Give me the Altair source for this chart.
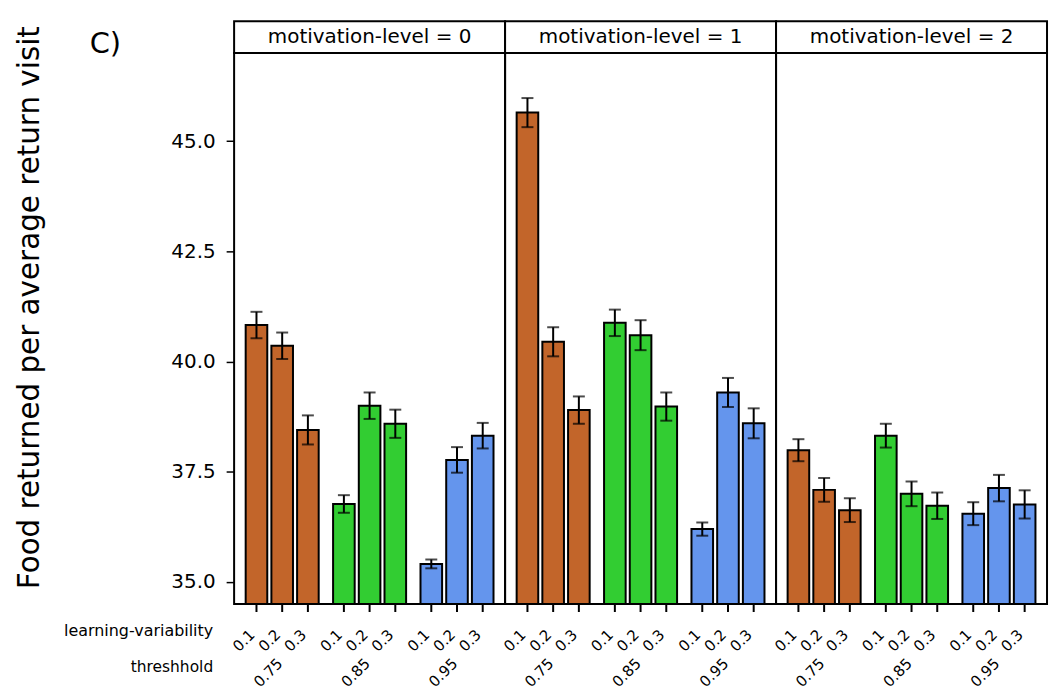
import altair as alt
import pandas as pd

# ---------------- data ----------------
MOTIVATION = [0, 1, 2]
THRESHOLDS = ["0.75", "0.85", "0.95"]
LEARNING_VAR = ["0.1", "0.2", "0.3"]

# means, ordered threshold-major then learning-variability
MEANS_M0 = [40.83, 40.36, 38.45, 36.77, 39.00, 38.59, 35.41, 37.77, 38.32]
MEANS_M1 = [45.65, 40.45, 38.90, 40.88, 40.60, 38.98, 36.20, 39.30, 38.60]
MEANS_M2 = [37.99, 37.09, 36.63, 38.32, 37.00, 36.73, 36.55, 37.13, 36.76]
# error half-widths
ERR_M0 = [0.30, 0.30, 0.33, 0.20, 0.30, 0.32, 0.10, 0.29, 0.29]
ERR_M1 = [0.33, 0.33, 0.31, 0.30, 0.34, 0.32, 0.15, 0.33, 0.34]
ERR_M2 = [0.25, 0.27, 0.27, 0.27, 0.28, 0.30, 0.26, 0.30, 0.32]

COLORS = ["#C2652A", "#32CD32", "#6495ED"]
Y_DOMAIN = [34.5, 47.0]
Y_TICKS = [35.0, 37.5, 40.0, 42.5, 45.0]
Y_TITLE = "Food returned per average return visit"
ROW_LABELS = ["learning-variability", "threshhold"]
PANEL_TAG = "C)"

MEANS = {0: MEANS_M0, 1: MEANS_M1, 2: MEANS_M2}
ERRS = {0: ERR_M0, 1: ERR_M1, 2: ERR_M2}

rows = []
for m in MOTIVATION:
    for i, t in enumerate(THRESHOLDS):
        for j, lv in enumerate(LEARNING_VAR):
            k = i * len(LEARNING_VAR) + j
            rows.append({"mot": m, "thr": t, "lv": lv,
                         "mean": MEANS[m][k], "err": ERRS[m][k]})
df = pd.DataFrame(rows)

W, H = 272, 553
FONT = "DejaVu Sans"


def panel(m):
    base = (
        alt.Chart(df)
        .transform_filter(alt.datum.mot == m)
        .transform_calculate(lo="datum.mean - datum.err", hi="datum.mean + datum.err")
    )
    x = alt.X("thr:N", sort=THRESHOLDS, axis=None,
              scale=alt.Scale(paddingInner=0, paddingOuter=0.05))
    xo = alt.XOffset("lv:N", sort=LEARNING_VAR,
                     scale=alt.Scale(paddingInner=0.16, paddingOuter=0.28))
    yscale = alt.Scale(domain=Y_DOMAIN, nice=False, zero=False)
    if m == 0:
        yaxis = alt.Axis(
            values=Y_TICKS, format=".1f", grid=False, domain=False,
            tickSize=8, tickWidth=1.5, tickColor="black",
            labelFontSize=20, labelFont=FONT, labelColor="black", labelPadding=11,
            title=Y_TITLE, titleFont=FONT, titleFontSize=29.5, titleFontWeight="normal",
            titleColor="black", titleX=-205, titleY=255, titleAngle=270,
            titleAlign="center", titleBaseline="middle",
        )
    else:
        yaxis = None

    def Y(field):
        return alt.Y(field, scale=yscale, axis=yaxis, stack=None)

    bars = base.mark_bar(stroke="black", strokeWidth=2).encode(
        x=x, xOffset=xo,
        y=Y("mean:Q"),
        y2=alt.datum(Y_DOMAIN[0]),
        color=alt.Color("thr:N", scale=alt.Scale(domain=THRESHOLDS, range=COLORS), legend=None),
    )
    err = base.mark_rule(color="black", strokeWidth=2).encode(
        x=x, xOffset=xo, y=Y("lo:Q"), y2="hi:Q")
    cap_hi = base.mark_tick(color="black", thickness=2, size=12, orient="horizontal").encode(
        x=x, xOffset=xo, y=Y("hi:Q"))
    cap_lo = base.mark_tick(color="black", thickness=2, size=12, orient="horizontal").encode(
        x=x, xOffset=xo, y=Y("lo:Q"))
    xticks = base.mark_rule(color="black", strokeWidth=2).encode(
        x=x, xOffset=xo, y=alt.value(H), y2=alt.value(H + 8))
    lv_lab = base.mark_text(angle=315, align="right", baseline="middle",
                            fontSize=15, font=FONT, color="black", dx=-6).encode(
        x=x, xOffset=xo, y=alt.value(H + 24), text="lv:N")
    thr_lab = base.transform_filter(alt.datum.lv == LEARNING_VAR[1]).mark_text(
        angle=315, align="right", baseline="middle", fontSize=15, font=FONT,
        color="black", dx=-3).encode(x=x, y=alt.value(H + 55), text="thr:N")

    head = alt.Chart(alt.Data(values=[{"label": f"motivation-level = {m}"}]))
    head_box = head.mark_rect(fill="white", stroke="black", strokeWidth=2).encode(
        x=alt.value(0), x2=alt.value(W), y=alt.value(-32), y2=alt.value(0))
    head_txt = head.mark_text(fontSize=20, font=FONT, color="black",
                              baseline="middle", align="center").encode(
        x=alt.value(W / 2), y=alt.value(-16), text="label:N")

    layers = [bars, err, cap_hi, cap_lo, xticks, lv_lab, thr_lab, head_box, head_txt]

    if m == 0:
        rl = alt.Chart(alt.Data(values=[{"t": ROW_LABELS[0], "k": 0},
                                        {"t": ROW_LABELS[1], "k": 1}]))
        row1 = rl.transform_filter(alt.datum.k == 0).mark_text(
            align="right", baseline="middle", fontSize=16, font=FONT, color="black").encode(
            x=alt.value(-21), y=alt.value(H + 27), text="t:N")
        row2 = rl.transform_filter(alt.datum.k == 1).mark_text(
            align="right", baseline="middle", fontSize=15.5, font=FONT, color="black").encode(
            x=alt.value(-21), y=alt.value(H + 63), text="t:N")
        tag = alt.Chart(alt.Data(values=[{"t": PANEL_TAG}])).mark_text(
            align="left", baseline="middle", fontSize=29, font=FONT, color="black").encode(
            x=alt.value(-145), y=alt.value(-9), text="t:N")
        layers += [row1, row2, tag]

    return alt.layer(*layers).properties(width=W, height=H)


chart = (
    alt.hconcat(*[panel(m) for m in MOTIVATION], spacing=0, bounds="flush")
    .properties(padding={"left": 13, "top": 18, "right": 4, "bottom": 0},
                background="white")
    .configure_view(stroke="black", strokeWidth=2)
)

chart.save("out.html", embed_options={"renderer": "svg", "actions": False})
